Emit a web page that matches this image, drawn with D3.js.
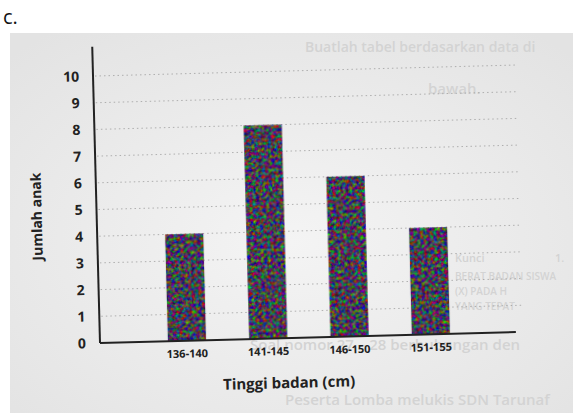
<!DOCTYPE html>
<html>
<head>
<meta charset="utf-8">
<script src="https://cdn.jsdelivr.net/npm/d3@7"></script>
<style>
  body { margin: 0; background: #fff; }
  svg { display: block; }
</style>
</head>
<body>
<div id="chart"></div>
<script>
// data
var categories = ["136-140", "141-145", "146-150", "151-155"];
var jumlah = [4, 8, 6, 4];
var yTicks = [0, 1, 2, 3, 4, 5, 6, 7, 8, 9, 10];

var width = 573, height = 413;

var svg = d3.select("#chart").append("svg")
    .attr("width", width)
    .attr("height", height);

var defs = svg.append("defs");

// grainy print texture for the bars
var f = defs.append("filter").attr("id", "grain")
    .attr("color-interpolation-filters", "sRGB")
    .attr("x", 0).attr("y", 0).attr("width", 1).attr("height", 1);
f.append("feTurbulence")
    .attr("type", "fractalNoise")
    .attr("baseFrequency", 0.3)
    .attr("numOctaves", 2)
    .attr("seed", 11)
    .attr("result", "noise");
f.append("feColorMatrix")
    .attr("in", "noise")
    .attr("type", "matrix")
    .attr("values", "1.3 -0.75 0 0 0.0  0 1.3 -0.8 0 0.0  -0.7 0 1.3 0 0.02  0 0 0 0 1")
    .attr("result", "col");
f.append("feComposite").attr("in", "col").attr("in2", "SourceGraphic").attr("operator", "in");

// paper tone
var grad = defs.append("radialGradient").attr("id", "paper")
    .attr("cx", "50%").attr("cy", "55%").attr("r", "70%");
grad.append("stop").attr("offset", "0%").attr("stop-color", "#f4f4f4");
grad.append("stop").attr("offset", "100%").attr("stop-color", "#e3e3e3");

svg.append("rect")
    .attr("x", 10).attr("y", 33)
    .attr("width", width - 10).attr("height", height - 33)
    .attr("fill", "url(#paper)");

// "c." label
svg.append("text")
    .attr("x", 3).attr("y", 24)
    .attr("font-family", "Open Sans, sans-serif")
    .attr("font-size", 20)
    .attr("fill", "#111")
    .text("c.");

// show-through from the back of the page
var ghost = [
  { t: "Buatlah tabel berdasarkan data di", x: 305, y: 52, s: 14 },
  { t: "bawah.", x: 428, y: 94, s: 15 },
  { t: "Kunci", x: 455, y: 262, s: 11 },
  { t: "1.", x: 555, y: 262, s: 11 },
  { t: "BERAT BADAN SISWA", x: 455, y: 280, s: 10 },
  { t: "(X) PADA H", x: 455, y: 295, s: 10 },
  { t: "YANG TEPAT", x: 455, y: 310, s: 10 },
  { t: "Soal nomor 27 – 28 berhubungan den", x: 250, y: 350, s: 15 },
  { t: "Peserta Lomba melukis SDN Tarunaf", x: 285, y: 405, s: 15 }
];
svg.append("g").selectAll("text")
    .data(ghost)
    .join("text")
    .attr("x", function(d) { return d.x; })
    .attr("y", function(d) { return d.y; })
    .attr("font-family", "Open Sans, sans-serif")
    .attr("font-weight", 600)
    .attr("font-size", function(d) { return d.s; })
    .attr("fill", "#d3d3d3")
    .text(function(d) { return d.t; });

var x0 = 100, y0 = 343;

// the scan is slightly tilted
var g = svg.append("g")
    .attr("transform", "rotate(-1.5," + x0 + "," + y0 + ")");

var x = d3.scaleBand()
    .domain(categories)
    .range([150, 468])
    .paddingInner(0.53)
    .paddingOuter(0.22);

var y = d3.scaleLinear()
    .domain([0, 10])
    .range([y0, 76]);

// dotted grid
g.append("g").selectAll("line")
    .data(yTicks.filter(function(d) { return d > 0; }))
    .join("line")
    .attr("x1", x0 + 2).attr("x2", 522)
    .attr("y1", function(d) { return y(d); })
    .attr("y2", function(d) { return y(d); })
    .attr("stroke", "#a0a0a0")
    .attr("stroke-width", 0.8)
    .attr("stroke-dasharray", "1.5,3");

// bars
g.append("g").selectAll("rect")
    .data(jumlah)
    .join("rect")
    .attr("x", function(d, i) { return x(categories[i]); })
    .attr("y", function(d) { return y(d); })
    .attr("width", x.bandwidth())
    .attr("height", function(d) { return y0 - y(d); })
    .attr("fill", "#3a2a3a")
    .attr("filter", "url(#grain)");

// axes
var yAxis = d3.axisLeft(y).tickValues(yTicks).tickSize(0).tickPadding(14);
var ya = g.append("g")
    .attr("transform", "translate(" + x0 + ",0)")
    .call(yAxis);
ya.select(".domain").attr("d", "M0," + y(11.1) + "V" + y0)
    .attr("stroke", "#222").attr("stroke-width", 2);
ya.selectAll("text")
    .attr("font-family", "Open Sans, sans-serif")
    .attr("font-weight", 700)
    .attr("font-size", 14)
    .attr("fill", "#222");

var xAxis = d3.axisBottom(x).tickSize(0).tickPadding(9);
var xa = g.append("g")
    .attr("transform", "translate(0," + y0 + ")")
    .call(xAxis);
xa.select(".domain").attr("d", "M" + x0 + ",0H516")
    .attr("stroke", "#222").attr("stroke-width", 2);
xa.selectAll("text")
    .attr("font-family", "Open Sans, sans-serif")
    .attr("font-weight", 700)
    .attr("font-size", 11)
    .attr("fill", "#222");

// titles
g.append("text")
    .attr("x", 288).attr("y", 393)
    .attr("text-anchor", "middle")
    .attr("font-family", "Open Sans, sans-serif")
    .attr("font-weight", 700)
    .attr("font-size", 15)
    .attr("fill", "#222")
    .text("Tinggi badan (cm)");

g.append("text")
    .attr("transform", "translate(45,215) rotate(-90)")
    .attr("text-anchor", "middle")
    .attr("font-family", "Open Sans, sans-serif")
    .attr("font-weight", 700)
    .attr("font-size", 14)
    .attr("fill", "#222")
    .text("Jumlah anak");
</script>
</body>
</html>
